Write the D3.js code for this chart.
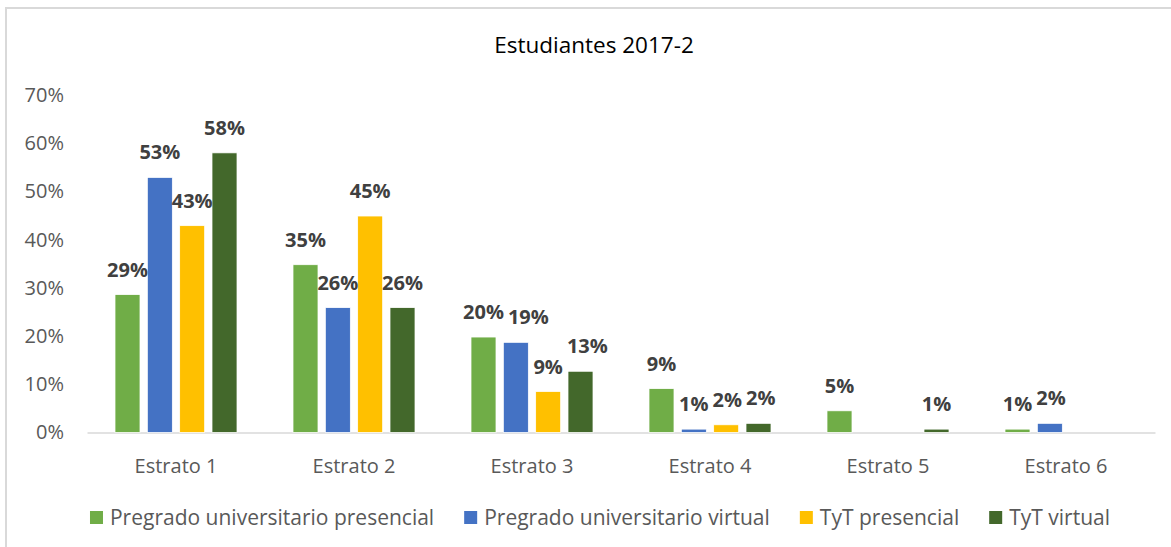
<!DOCTYPE html>
<html>
<head>
<meta charset="utf-8">
<script src="https://cdn.jsdelivr.net/npm/d3@7"></script>
<style>
  body { margin: 0; background: #fff; }
  text { font-family: "Open Sans", sans-serif; }
</style>
</head>
<body>
<div id="chart"></div>
<script>
// Data (percent)
var categories = ["Estrato 1", "Estrato 2", "Estrato 3", "Estrato 4", "Estrato 5", "Estrato 6"];
var seriesNames = ["Pregrado universitario presencial", "Pregrado universitario virtual", "TyT presencial", "TyT virtual"];
var pregradoPresencial = [28.6, 34.8, 19.8, 9.1, 4.5, 0.7];
var pregradoVirtual = [52.9, 25.9, 18.7, 0.7, 0, 1.9];
var tytPresencial = [42.9, 44.9, 8.5, 1.6, 0, 0];
var tytVirtual = [58, 25.9, 12.7, 1.9, 0.7, 0];
var yTicks = [0, 10, 20, 30, 40, 50, 60, 70];

var seriesValues = [pregradoPresencial, pregradoVirtual, tytPresencial, tytVirtual];
var colors = ["#70AD47", "#4472C4", "#FFC000", "#43682B"];

var svgWidth = 1171;
var svgHeight = 547;

var svg = d3.select("#chart")
    .append("svg")
    .attr("width", svgWidth)
    .attr("height", svgHeight);

svg.append("rect")
    .attr("width", svgWidth)
    .attr("height", svgHeight)
    .attr("fill", "#fff");

// chart border (right/bottom run off the picture)
svg.append("rect")
    .attr("x", 6)
    .attr("y", 8)
    .attr("width", svgWidth)
    .attr("height", svgHeight)
    .attr("fill", "none")
    .attr("stroke", "#d9d9d9")
    .attr("stroke-width", 2);

// Title
svg.append("text")
    .attr("x", 594)
    .attr("y", 53)
    .attr("text-anchor", "middle")
    .attr("font-size", "22.5px")
    .attr("fill", "#000")
    .text("Estudiantes 2017-2");

// Scales
var x0 = d3.scaleBand()
    .domain(categories)
    .range([87, 1155]);

var x1 = d3.scaleBand()
    .domain(d3.range(seriesNames.length))
    .range([28, 150])
    .paddingInner(0.227);

var y = d3.scaleLinear()
    .domain([0, 70])
    .range([432.5, 95]);

// Y axis labels (no line, no gridlines)
var leftAxis = d3.axisLeft(y)
    .tickValues(yTicks)
    .tickSize(0)
    .tickPadding(0)
    .tickFormat(d => d + "%");

var yAxisG = svg.append("g")
    .attr("transform", "translate(64,0)")
    .call(leftAxis);
yAxisG.select(".domain").remove();
yAxisG.selectAll("text")
    .attr("font-family", "Open Sans, sans-serif")
    .attr("font-size", "20px")
    .attr("fill", "#595959");

// X axis
var bottomAxis = d3.axisBottom(x0)
    .tickSize(0)
    .tickPadding(0);

var xAxisG = svg.append("g")
    .attr("transform", `translate(0, ${y(0)})`)
    .call(bottomAxis);
xAxisG.select(".domain")
    .attr("stroke", "#d9d9d9")
    .attr("stroke-width", 1.5);
xAxisG.selectAll("text")
    .attr("font-family", "Open Sans, sans-serif")
    .attr("font-size", "20px")
    .attr("fill", "#595959")
    .attr("dy", 0)
    .attr("y", 40.5);

// Bars
var rows = [];
categories.forEach(function(c, ci) {
    seriesValues.forEach(function(vals, si) {
        rows.push({ cat: c, s: si, v: vals[ci] });
    });
});

var barsG = svg.append("g");
barsG.selectAll("rect")
    .data(rows.filter(d => d.v > 0))
    .enter()
    .append("rect")
    .attr("x", d => x0(d.cat) + x1(d.s))
    .attr("y", d => y(d.v))
    .attr("width", x1.bandwidth())
    .attr("height", d => y(0) - y(d.v))
    .attr("fill", d => colors[d.s])
    .attr("stroke", "#fff")
    .attr("stroke-width", 0.75);

// Data labels
var labels = barsG.selectAll("text")
    .data(rows.filter(d => d.v > 0))
    .enter()
    .append("text")
    .attr("x", d => x0(d.cat) + x1(d.s) + x1.bandwidth() / 2)
    .attr("y", d => y(d.v) - 18)
    .attr("text-anchor", "middle")
    .attr("font-size", "20px")
    .attr("font-weight", "bold")
    .attr("fill", "#404040")
    .text(d => Math.round(d.v) + "%");

// nudge labels that collide with the one before them (like Excel does)
var prev = null;
labels.each(function(d) {
    var b = this.getBBox();
    if (prev && prev.cat === d.cat) {
        var vOverlap = b.y < prev.b.y + prev.b.height && prev.b.y < b.y + b.height;
        var shift = prev.b.x + prev.b.width + 4 - b.x;
        if (vOverlap && shift > 0) {
            d3.select(this).attr("x", +d3.select(this).attr("x") + shift);
            b = this.getBBox();
        }
    }
    prev = { cat: d.cat, b: b };
});

// Legend
var legendG = svg.append("g");
var lx = 0;
seriesNames.forEach(function(name, i) {
    var g = legendG.append("g");
    g.append("rect")
        .attr("x", 0)
        .attr("y", -6)
        .attr("width", 13)
        .attr("height", 13)
        .attr("fill", colors[i]);
    var t = g.append("text")
        .attr("x", 20)
        .attr("y", 7.5)
        .attr("font-size", "21px")
        .attr("fill", "#595959")
        .text(name);
    var w = 20 + t.node().getComputedTextLength();
    g.attr("transform", `translate(${lx},0)`);
    lx += w + 30;
});
var legendWidth = lx - 30;
legendG.attr("transform", `translate(${600 - legendWidth / 2}, 517)`);
</script>
</body>
</html>
